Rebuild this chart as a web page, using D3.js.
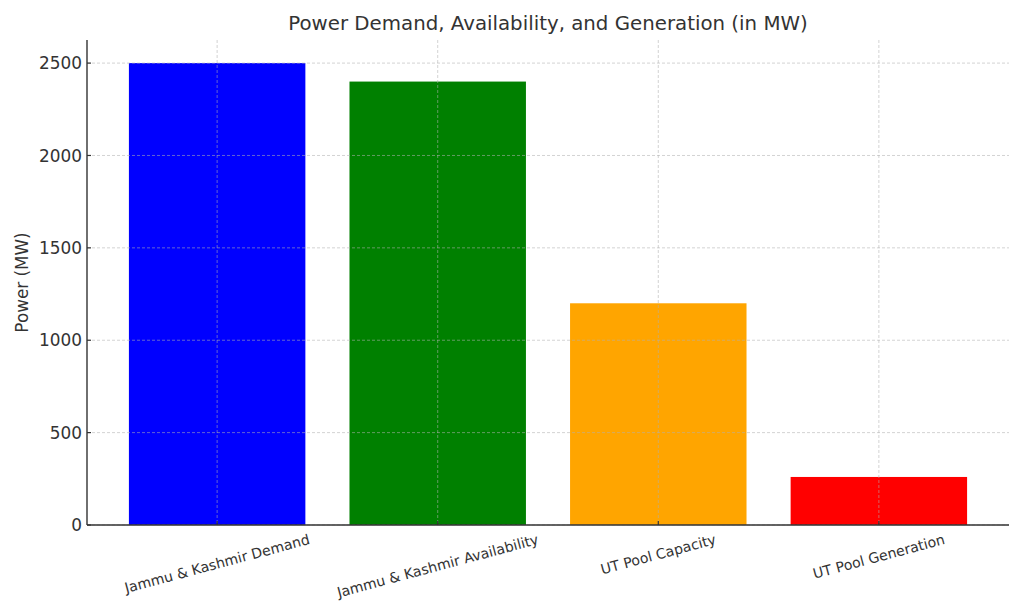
<!DOCTYPE html>
<html><head><meta charset="utf-8">
<script src="https://cdn.jsdelivr.net/npm/d3@7"></script>
<style>body{margin:0;background:#fff}svg{display:block}text{font-family:"DejaVu Sans",sans-serif;fill:#333}</style>
</head><body>
<svg id="c" width="1024" height="614"></svg>
<script>
const categories = ["Jammu & Kashmir Demand","Jammu & Kashmir Availability","UT Pool Capacity","UT Pool Generation"];
const values = [2500, 2400, 1200, 260];
const barColors = ["#0000ff","#008000","#ffa500","#ff0000"];
const yTicks = [0, 500, 1000, 1500, 2000, 2500];
const titleText = "Power Demand, Availability, and Generation (in MW)";
const yLabelText = "Power (MW)";

const svg = d3.select("#c");
const L = 87, R = 1009, T = 40, B = 525;
const x = d3.scaleLinear().domain([-0.59, 3.59]).range([L, R]);
const y = d3.scaleLinear().domain([0, 2625]).range([B, T]);
const bw = x(0.4) - x(-0.4);

// bars
svg.selectAll("rect.bar").data(values).enter().append("rect")
  .attr("x", (d,i) => x(i) - bw/2).attr("width", bw)
  .attr("y", d => y(d)).attr("height", d => y(0) - y(d))
  .attr("fill", (d,i) => barColors[i]);

// grid (on top)
const g = svg.append("g");
g.selectAll("line.h").data(yTicks).enter().append("line")
  .attr("x1", L).attr("x2", R).attr("y1", d => y(d)).attr("y2", d => y(d))
  .attr("stroke", "#b0b0b0").attr("stroke-opacity", 0.7).attr("stroke-width", 0.8).attr("stroke-dasharray", "3,2");
g.selectAll("line.v").data(categories).enter().append("line")
  .attr("x1", (d,i) => x(i)).attr("x2", (d,i) => x(i)).attr("y1", T).attr("y2", B)
  .attr("stroke", "#b0b0b0").attr("stroke-opacity", 0.7).attr("stroke-width", 0.8).attr("stroke-dasharray", "3,2");

// ticks
svg.selectAll("line.yt").data(yTicks).enter().append("line")
  .attr("x1", L).attr("x2", L + 4).attr("y1", d => y(d)).attr("y2", d => y(d))
  .attr("stroke", "#333").attr("stroke-width", 1.2);
svg.selectAll("line.xt").data(categories).enter().append("line")
  .attr("x1", (d,i) => x(i)).attr("x2", (d,i) => x(i)).attr("y1", B).attr("y2", B - 4)
  .attr("stroke", "#333").attr("stroke-width", 1.2);

// spines
svg.append("line").attr("x1", L).attr("x2", L).attr("y1", T).attr("y2", B).attr("stroke", "#333").attr("stroke-width", 1.4);
svg.append("line").attr("x1", L).attr("x2", R).attr("y1", B).attr("y2", B).attr("stroke", "#333").attr("stroke-width", 1.4);

// y tick labels
svg.selectAll("text.yl").data(yTicks).enter().append("text")
  .attr("x", L - 5).attr("y", d => y(d)).attr("dy", "0.36em")
  .attr("text-anchor", "end").style("font-size", "16.9px").text(d => d);

// x tick labels rotated 15deg
const fs = 14.1;
svg.selectAll("text.xl").data(categories).enter().append("text")
  .style("font-size", fs + "px").attr("text-anchor", "middle").attr("dominant-baseline", "central")
  .text(d => d)
  .each(function(d, i) {
    const len = this.getComputedTextLength();
    const a = 15 * Math.PI / 180;
    const h = fs * 1.16;
    const H = len * Math.sin(a) + h * Math.cos(a);
    const cx = x(i), cy = 531 + H / 2;
    d3.select(this).attr("x", cx).attr("y", cy).attr("transform", `rotate(-15,${cx},${cy})`);
  });

// title
svg.append("text").attr("x", (L + R) / 2).attr("y", 30).attr("text-anchor", "middle")
  .style("font-size", "19.8px").text(titleText);

// y label
svg.append("text").attr("transform", `translate(28,${(T + B) / 2}) rotate(-90)`)
  .attr("text-anchor", "middle").style("font-size", "16.8px").text(yLabelText);
</script>
</body></html>
